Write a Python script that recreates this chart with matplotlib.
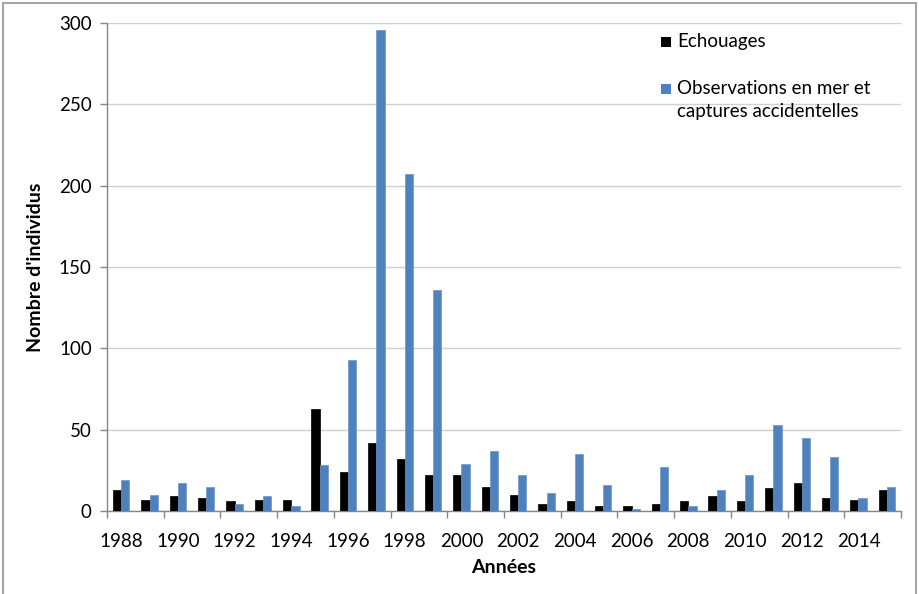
import numpy as np
import matplotlib
matplotlib.use("Agg")
import matplotlib.pyplot as plt
from matplotlib.patches import Rectangle

years = list(range(1988, 2016))
echouages = [13, 7, 9, 8, 6, 7, 7, 63, 24, 42, 32, 22, 22, 15, 10, 4,
             6, 3, 3, 4, 6, 9, 6, 14, 17, 8, 7, 13]
observations = [19, 10, 17, 15, 4, 9, 3, 28, 93, 296, 207, 136, 29, 37, 22, 11,
                35, 16, 1, 27, 3, 13, 22, 53, 45, 33, 8, 15]
labels = ['Echouages', 'Observations en mer et\ncaptures accidentelles']
colors = ['black', '#4F81BD']
tick_years = [str(y) for y in years[::2]]

plt.rcParams['font.family'] = ['Lato', 'DejaVu Sans']

W, H = 919, 594
fig = plt.figure(figsize=(W / 100, H / 100), dpi=100)
ax = fig.add_axes([107 / W, 1 - 511 / H, (901 - 107) / W, (511 - 23) / H])

x = np.arange(len(years))
w = 0.29
ax.bar(x - w / 2, echouages, w, color=colors[0], edgecolor='black', linewidth=0.5, zorder=3)
ax.bar(x + w / 2, observations, w, color=colors[1], edgecolor='#6A96CC', linewidth=0.5, zorder=3)

ax.set_xlim(-0.5, len(years) - 0.5)
ax.set_ylim(0, 300)
ax.set_yticks(range(0, 301, 50))
ax.set_xticks(x[::2])
ax.set_xticklabels(tick_years)
ax.set_xticks(np.arange(-0.5, len(years), 2), minor=True)
ax.tick_params(axis='x', which='major', length=0, labelsize=13.5, pad=16)
ax.tick_params(axis='x', which='minor', length=5, color='#868686', width=1)
ax.tick_params(axis='y', length=5, color='#868686', width=1, labelsize=13.5, pad=6)

ax.grid(axis='y', color='#D0D0D0', linewidth=1, zorder=0)
for s in ('top', 'right'):
    ax.spines[s].set_visible(False)
for s in ('left', 'bottom'):
    ax.spines[s].set_color('#868686')
    ax.spines[s].set_linewidth(1)

ax.set_xlabel('Années', fontsize=14, fontweight='bold', labelpad=6)
ax.set_ylabel("Nombre d'individus", fontsize=14, fontweight='bold', labelpad=11)

# legend drawn by hand: square aligned with the first text line
leg_y = [42, 89]
for lab, col, ly in zip(labels, colors, leg_y):
    fig.patches.append(Rectangle((661 / W, 1 - (ly + 5) / H), 10 / W, 10 / H,
                                 transform=fig.transFigure, facecolor=col, edgecolor='none'))
    fig.text(677 / W, 1 - (ly - 9) / H, lab, fontsize=13.5, va='top', ha='left', linespacing=1.45)

fig.patches.append(Rectangle((3 / W, -0.05), 913 / W, 1.05 - 3 / H, transform=fig.transFigure,
                             fill=False, edgecolor='#A6A6A6', linewidth=1.5))

fig.savefig('out.png', dpi=100)
